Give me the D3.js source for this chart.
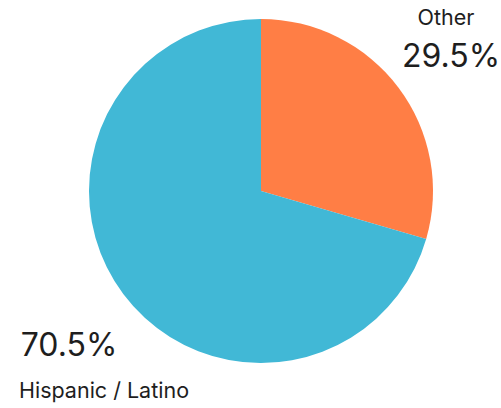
<!DOCTYPE html>
<html>
<head>
<meta charset="utf-8">
<script src="https://cdn.jsdelivr.net/npm/d3@7"></script>
<style>
  html, body { margin: 0; padding: 0; background: #fff; }
  svg { display: block; }
  text { font-family: Inter, "Open Sans", sans-serif; fill: #1e1e1e; }
</style>
</head>
<body>
<svg id="chart" width="501" height="408"></svg>
<script>
// Share of population by group
const categories = ["Other", "Hispanic / Latino"];
const shares = [29.5, 70.5];
const valueLabels = ["29.5%", "70.5%"];
const colors = ["#FF7E45", "#41B8D6"];

const svg = d3.select("#chart");
const cx = 261, cy = 191, radius = 172;

const pie = d3.pie().sort(null).value(d => d.value);
const arc = d3.arc().innerRadius(0).outerRadius(radius);
const color = d3.scaleOrdinal().domain(categories).range(colors);

const data = categories.map((c, i) => ({ name: c, value: shares[i], label: valueLabels[i] }));

const g = svg.append("g").attr("transform", `translate(${cx},${cy})`);
g.selectAll("path")
  .data(pie(data))
  .join("path")
  .attr("d", arc)
  .attr("fill", d => color(d.data.name));

// Labels: category name and percentage for each slice
const labels = [
  { name: categories[0], value: valueLabels[0], nameX: 446, nameY: 25, valX: 451, valY: 67 },
  { name: categories[1], value: valueLabels[1], nameX: 104, nameY: 398, valX: 69, valY: 356 }
];
labels.forEach(l => {
  svg.append("text").attr("x", l.nameX).attr("y", l.nameY)
    .attr("text-anchor", "middle").attr("font-size", 21.5).text(l.name);
  svg.append("text").attr("x", l.valX).attr("y", l.valY)
    .attr("text-anchor", "middle").attr("font-size", 32).text(l.value);
});
</script>
</body>
</html>
